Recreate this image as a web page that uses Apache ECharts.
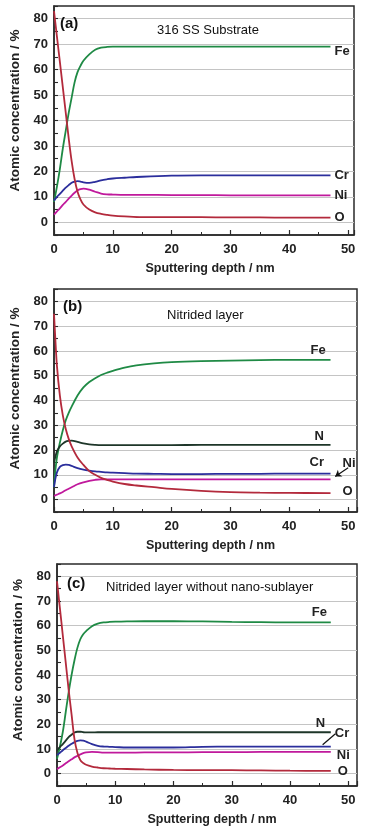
<!DOCTYPE html>
<html>
<head>
<meta charset="utf-8">
<script src="https://cdn.jsdelivr.net/npm/echarts@6/dist/echarts.min.js"></script>
<style>
html,body{margin:0;padding:0;background:#fff;}
#chart{width:365px;height:834px;}
</style>
</head>
<body>
<div id="chart"></div>
<script>
// ---------- Data ----------
const xTicks = [0, 10, 20, 30, 40, 50];
const yTicks = [0, 10, 20, 30, 40, 50, 60, 70, 80];

// Panel (a) 316 SS Substrate
const depthA = [0,0.5,1,1.5,2,2.5,3,3.5,4,4.5,5,6,7,8,9,10,12,15,20,25,30,35,40,47];
const feA = [8,14,21,29,36,43,49,55,59,61.5,63.5,66,67.8,68.6,68.9,69,69,69,69,69,69,69,69,69];
const oA  = [83,73,63,53,43,33,24,17,12,9,7,5,3.9,3.3,2.9,2.6,2.3,2,2,2,1.9,1.9,1.8,1.8];
const crA = [8.5,10,11.2,12.4,13.6,14.6,15.5,16,16.2,16,15.7,15.5,15.9,16.5,16.9,17.2,17.5,17.9,18.3,18.4,18.4,18.4,18.4,18.4];
const niA = [3,4.3,5.5,6.8,8,9.3,10.5,11.6,12.5,13,13.2,12.8,12,11.3,11,10.9,10.8,10.8,10.7,10.7,10.6,10.6,10.6,10.6];

// Panel (b) Nitrided layer
const depthB = [0,0.2,0.5,1,1.5,2,2.5,3,4,5,6,7,8,9,10,12,14,17,20,25,30,35,40,47];
const feB = [5,11,17,23,28,32,35,37.5,42,45.3,47.5,49,50.3,51.2,52,53.3,54.2,55,55.5,55.9,56.1,56.3,56.4,56.4];
const oB  = [75,66,54,42,34,28.5,24.5,21.5,17,14,11.5,10,8.8,8,7.3,6.3,5.7,5,4.3,3.5,3,2.8,2.7,2.6];
const nB  = [15,17,19.5,21.5,22.6,23.4,23.7,23.8,23.3,22.7,22.3,22.1,22,22,22,22,22,22,22,22.1,22.1,22.1,22.1,22.1];
const crB = [5,8,11,13.2,13.9,14.1,14,13.6,12.7,12.1,11.7,11.4,11.2,11,10.9,10.7,10.5,10.4,10.3,10.3,10.4,10.4,10.5,10.5];
const niB = [1.5,1.7,2,2.5,3.1,3.8,4.4,5,6.2,7,7.6,8,8.2,8.2,8.2,8.2,8.2,8.2,8.2,8.2,8.2,8.2,8.2,8.2];

// Panel (c) Nitrided layer without nano-sublayer
const depthC = [0,0.5,1,1.5,2,2.5,3,3.5,4,4.5,5,6,7,8,9,10,12,15,20,25,30,35,40,47];
const feC = [6,11,17,25,33,40,46,51,54.5,56.5,57.8,59.8,60.8,61.3,61.5,61.6,61.7,61.8,61.8,61.7,61.5,61.4,61.3,61.3];
const oC  = [78,67,56,45,34,24,14,8.5,5.5,4.3,3.6,2.9,2.5,2.2,2.1,2,1.9,1.7,1.5,1.4,1.4,1.3,1.2,1.1];
const nC  = [9.5,10.8,12,13.4,14.8,15.8,16.7,17,17,16.8,16.7,16.7,16.8,16.8,16.8,16.8,16.8,16.8,16.8,16.8,16.8,16.8,16.8,16.8];
const crC = [7.5,8.5,9.5,10.4,11.3,12.1,12.8,13.3,13.5,13.4,13,12,11.3,11,10.9,10.8,10.6,10.6,10.6,10.9,11,11,11,11];
const niC = [1.8,2.6,3.3,4.2,5,5.8,6.6,7.2,7.8,8.3,8.6,8.8,8.7,8.5,8.5,8.5,8.5,8.6,8.6,8.7,8.7,8.8,8.8,8.8];

// Leader/arrow annotations (data coordinates: [depth, concentration])
const arrowNiB = [[50, 12.9], [47.8, 9.3]];
const leaderCrC = [[47.8, 16.2], [45.6, 11.7]];

// Panel texts
const panelTags = ['(a)', '(b)', '(c)'];
const panelTitles = ['316 SS Substrate', 'Nitrided layer', 'Nitrided layer without nano-sublayer'];

// ---------- Styling ----------
const FONT = '"Liberation Sans", Arial, sans-serif';
const COLORS = { Fe: '#1f8a45', Cr: '#2b2e9c', Ni: '#c0199c', O: '#b32a3c', N: '#1e3629' };

const grids = [
  { left: 50, top: 6, width: 304, height: 229, xMax: 51 },
  { left: 53, top: 289, width: 304, height: 223, xMax: 51.5 },
  { left: 57, top: 564, width: 300, height: 222, xMax: 51.5 }
];
const yTitleShift = [20, 24, 30];
const xTitleShift = [12, 10, 10];

function pairs(xs, ys) { return xs.map((x, i) => [x, ys[i]]); }

function mkSeries(gi, name, xs, ys, off, extra) {
  const s = {
    type: 'line', name: name, xAxisIndex: gi, yAxisIndex: gi,
    data: pairs(xs, ys), showSymbol: false, smooth: 0.35,
    lineStyle: { color: COLORS[name], width: 1.8 },
    itemStyle: { color: COLORS[name] },
    endLabel: {
      show: true, formatter: name, distance: 4, offset: off,
      fontFamily: FONT, fontSize: 13, fontWeight: 'bold', color: '#222'
    },
    z: 3
  };
  return Object.assign(s, extra || {});
}

function leader(points, arrow) {
  return {
    silent: true, animation: false,
    symbol: arrow ? ['none', 'arrow'] : ['none', 'none'], symbolSize: arrow ? 6 : 0,
    lineStyle: { color: '#111', width: 1.2, type: 'solid' },
    label: { show: false },
    data: [[{ coord: points[0] }, { coord: points[1] }]]
  };
}

const series = [
  mkSeries(0, 'Fe', depthA, feA, [0, 5]),
  mkSeries(0, 'Cr', depthA, crA, [0, 0]),
  mkSeries(0, 'Ni', depthA, niA, [0, 0]),
  mkSeries(0, 'O',  depthA, oA,  [0, 0]),

  mkSeries(1, 'Fe', depthB, feB, [-24, -9]),
  mkSeries(1, 'N',  depthB, nB,  [-20, -8]),
  mkSeries(1, 'Cr', depthB, crB, [-25, -11]),
  mkSeries(1, 'Ni', depthB, niB, [8, -16], { markLine: leader(arrowNiB, true) }),
  mkSeries(1, 'O',  depthB, oB,  [8, -2]),

  mkSeries(2, 'Fe', depthC, feC, [-23, -10]),
  mkSeries(2, 'N',  depthC, nC,  [-19, -9]),
  mkSeries(2, 'Cr', depthC, crC, [0, -13], { markLine: leader(leaderCrC, false) }),
  mkSeries(2, 'Ni', depthC, niC, [2, 3]),
  mkSeries(2, 'O',  depthC, oC,  [3, 0])
];

const xAxes = grids.map((g, i) => ({
  type: 'value', gridIndex: i, min: 0, max: g.xMax, interval: 10,
  name: 'Sputtering depth / nm', nameLocation: 'middle', nameGap: 27,
  nameTextStyle: { fontFamily: FONT, fontSize: 12.5, fontWeight: 'bold', color: '#222', padding: [0, 0, 0, xTitleShift[i]] },
  axisLine: { show: true, onZero: false, lineStyle: { color: '#2a2a2a', width: 1.5 } },
  axisTick: { show: true, inside: true, length: 5, lineStyle: { color: '#2a2a2a', width: 1.2 } },
  minorTick: { show: true, splitNumber: 2, length: 3, lineStyle: { color: '#2a2a2a', width: 1 } },
  axisLabel: {
    margin: 8, fontFamily: FONT, fontSize: 13, fontWeight: 'bold', color: '#222',
    formatter: v => (xTicks.indexOf(v) >= 0 ? String(v) : '')
  },
  splitLine: { show: false }
}));

const yAxes = grids.map((g, i) => ({
  type: 'value', gridIndex: i, min: -5, max: 85, interval: 5,
  name: 'Atomic concentration / %', nameLocation: 'middle', nameGap: 32,
  nameTextStyle: { fontFamily: FONT, fontSize: 13.5, fontWeight: 'bold', color: '#222', padding: [0, 0, 0, yTitleShift[i]] },
  axisLine: { show: true, onZero: false, lineStyle: { color: '#2a2a2a', width: 1.5 } },
  axisTick: { show: true, inside: true, length: 4, lineStyle: { color: '#2a2a2a', width: 1.1 } },
  axisLabel: {
    margin: 6, fontFamily: FONT, fontSize: 13, fontWeight: 'bold', color: '#222',
    formatter: v => (yTicks.indexOf(v) >= 0 ? String(v) : '')
  },
  splitLine: { show: true, lineStyle: { color: ['rgba(0,0,0,0)', '#c4c4c4'], width: 1 } }
}));

const tagPos = [[60, 16], [63, 299], [67, 576]];
const titlePos = [[157, 24], [167, 309], [106, 581]];
const titles = [];
for (let i = 0; i < 3; i++) {
  titles.push({ text: panelTags[i], left: tagPos[i][0], top: tagPos[i][1], padding: 0,
    textStyle: { fontFamily: FONT, fontSize: 15, fontWeight: 'bold', color: '#111' } });
  titles.push({ text: panelTitles[i], left: titlePos[i][0], top: titlePos[i][1], padding: 0,
    textStyle: { fontFamily: FONT, fontSize: 13, fontWeight: 'normal', color: '#111' } });
}

const chart = echarts.init(document.getElementById('chart'), null, { renderer: 'canvas' });
chart.setOption({
  animation: false,
  backgroundColor: '#fff',
  title: titles,
  grid: grids.map(g => ({ left: g.left, top: g.top, width: g.width, height: g.height,
    show: true, borderColor: '#2a2a2a', borderWidth: 1.5, backgroundColor: 'transparent', containLabel: false })),
  xAxis: xAxes,
  yAxis: yAxes,
  series: series
});
</script>
</body>
</html>
